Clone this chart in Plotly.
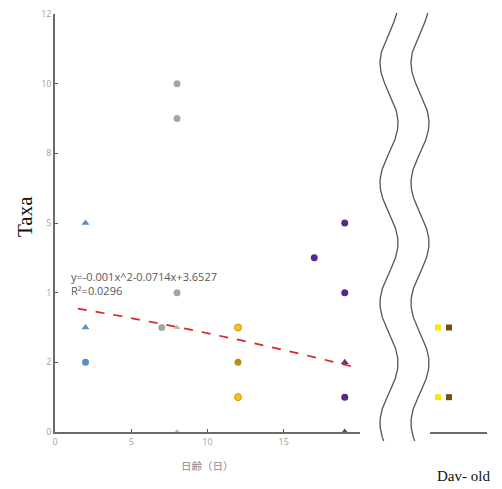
import numpy as np
import plotly.graph_objects as go

# ---------------- data ----------------
blue_circle_x = [2]
blue_circle_y = [2]
blue_tri_x = [2, 2]
blue_tri_y = [6, 3]

gray_circle_x = [8, 8, 8, 7]
gray_circle_y = [10, 9, 4, 3]
gray_tri_x = [8, 8]
gray_tri_y = [3, 0]

yellow_x = [12, 12]
yellow_y = [3, 1]
gold_x = [12]
gold_y = [2]

purple_x = [17, 19, 19, 19]
purple_y = [5, 6, 4, 1]
purple_tri_x = [19, 19]
purple_tri_y = [2, 0]

# trendline coefficients (as displayed) and its x extent
trend_coef = [-0.001, -0.0714, 3.6527]
trend_x = [1.5, 4, 8, 12, 16, 19.7]
trend_label = ["y=-0.001x^2-0.0714x+3.6527", "R²=0.0296"]

# right (old) panel
old_yellow_x = [0.84, 0.84]
old_yellow_y = [3, 1]
old_brown_x = [2.0, 2.0]
old_brown_y = [3, 1]

y_tickvals = [0, 2, 4, 6, 8, 10, 12]
y_ticktext = ["0", "2", "1", "5", "8", "10", "12"]
x_tickvals = [0, 5, 10, 15]
x_ticktext = ["0", "5", "10", "15"]

W, H = 502, 489

def px_x(p):
    return p / W

def px_y(p):
    return 1 - p / H

fig = go.Figure()

def add_pts(x, y, color, symbol="circle", size=7, line=None, xa="x", ya="y"):
    mk = dict(color=color, size=size, symbol=symbol)
    mk["line"] = line if line else dict(width=0)
    fig.add_trace(go.Scatter(x=x, y=y, mode="markers", marker=mk, cliponaxis=False,
                             xaxis=xa, yaxis=ya, showlegend=False, hoverinfo="skip"))

# trendline
ty = [trend_coef[0] * v * v + trend_coef[1] * v + trend_coef[2] for v in trend_x]
fig.add_trace(go.Scatter(x=trend_x, y=ty, mode="lines",
                         line=dict(color="#d8262c", width=1.7, dash="dash"),
                         showlegend=False, hoverinfo="skip"))

add_pts(blue_circle_x, blue_circle_y, "#5b8ec6")
add_pts(blue_tri_x, blue_tri_y, "#5b8ec6", symbol="triangle-up", size=7)
add_pts(gray_circle_x, gray_circle_y, "#a6a6a6")
add_pts(gray_tri_x, gray_tri_y, "#b8b8b8", symbol="triangle-up", size=6)
add_pts(yellow_x, yellow_y, "#f3c614", line=dict(color="#c79a12", width=1))
add_pts(gold_x, gold_y, "#b88f0c")
add_pts(purple_x, purple_y, "#55288a")
add_pts(purple_tri_x, purple_tri_y, "#7a2f7e", symbol="triangle-up", size=7)

# right panel squares
add_pts(old_yellow_x, old_yellow_y, "#f7ea00", symbol="square", size=6, xa="x2", ya="y")
add_pts(old_brown_x, old_brown_y, "#7a4a14", symbol="square", size=6, xa="x2", ya="y")

# axis-break wavy lines (decoration, drawn in pixel coordinates)
wy = np.linspace(13, 441, 300)
for cx in (389, 420):
    wx = cx - 9 * np.cos(2 * np.pi * (wy - 63) / 120)
    fig.add_trace(go.Scatter(x=wx, y=wy, mode="lines",
                             line=dict(color="#555555", width=1.3),
                             xaxis="x3", yaxis="y3", showlegend=False, hoverinfo="skip"))

axis_line = dict(showline=True, linecolor="#6b6b6b", linewidth=1.5,
                 showgrid=False, zeroline=False, automargin=False)

fig.update_layout(
    template="none",
    width=W, height=H,
    margin=dict(l=0, r=0, t=0, b=0, pad=0),
    paper_bgcolor="white", plot_bgcolor="rgba(0,0,0,0)",
    showlegend=False,
    xaxis=dict(domain=[px_x(55), px_x(360)], range=[0, 20], anchor="y",
               tickvals=x_tickvals, ticktext=x_ticktext,
               ticks="inside", ticklen=3, tickcolor="#555555",
               tickfont=dict(family="Open Sans", size=9, color="#a0a0a0"),
               **axis_line),
    yaxis=dict(domain=[px_y(432), px_y(14)], range=[0, 12], anchor="x",
               tickvals=y_tickvals, ticktext=y_ticktext,
               ticks="inside", ticklen=3, tickcolor="#555555",
               tickfont=dict(family="Open Sans", size=9, color="#a0a0a0"),
               **axis_line),
    xaxis2=dict(domain=[px_x(430), px_x(487)], range=[0, 6], anchor="y",
                showticklabels=False, ticks="",
                **axis_line),
    xaxis3=dict(domain=[0, 1], range=[0, W], anchor="y3", visible=False,
                fixedrange=True, automargin=False),
    yaxis3=dict(domain=[0, 1], range=[H, 0], anchor="x3", visible=False,
                fixedrange=True, automargin=False),
    annotations=[
        dict(text=trend_label[0] + "<br>" + trend_label[1], x=px_x(69), y=px_y(283.5),
             xref="paper", yref="paper", align="left",
             xanchor="left", yanchor="middle", showarrow=False,
             font=dict(family="Open Sans", size=11, color="#595959")),
        dict(text="日齢（日）", x=px_x(207), y=px_y(465), xref="paper", yref="paper",
             xanchor="center", yanchor="middle", showarrow=False,
             font=dict(family="Noto Sans CJK JP", size=10.5, color="#8a8a8a")),
        dict(text="Taxa", x=px_x(25), y=px_y(217), xref="paper", yref="paper",
             xanchor="center", yanchor="middle", showarrow=False, textangle=-90,
             font=dict(family="Liberation Serif", size=21, color="#111111")),
        dict(text="Dav- old", x=px_x(463), y=px_y(476), xref="paper", yref="paper",
             xanchor="center", yanchor="middle", showarrow=False,
             font=dict(family="Liberation Serif", size=15, color="#111111")),
    ],
)

fig.write_html("out.html")
